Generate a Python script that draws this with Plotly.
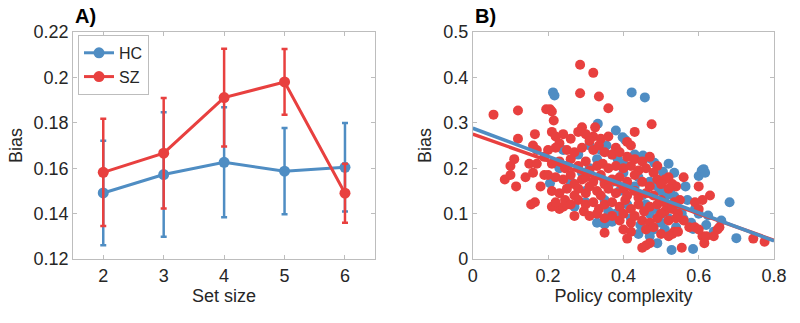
import plotly.graph_objects as go

# ---------------- Panel A data ----------------
set_size = [2, 3, 4, 5, 6]
hc_bias = [0.1491, 0.1572, 0.1626, 0.1587, 0.1604]
hc_err = [0.0230, 0.0274, 0.0242, 0.0190, 0.0195]
sz_bias = [0.1582, 0.1666, 0.1911, 0.1980, 0.1490]
sz_err = [0.0236, 0.0243, 0.0215, 0.0145, 0.0130]

# ---------------- Panel B data ----------------
hc_pts = [
    (0.213, 0.367), (0.217, 0.360), (0.422, 0.367), (0.457, 0.356), (0.332, 0.298),
    (0.380, 0.283), (0.398, 0.268), (0.405, 0.262), (0.355, 0.250), (0.340, 0.240),
    (0.205, 0.167), (0.250, 0.205), (0.270, 0.115), (0.300, 0.125), (0.330, 0.080),
    (0.350, 0.076), (0.370, 0.082), (0.440, 0.055), (0.445, 0.075), (0.490, 0.035),
    (0.528, 0.020), (0.585, 0.022), (0.600, 0.183), (0.608, 0.195), (0.613, 0.198),
    (0.617, 0.190), (0.682, 0.125), (0.700, 0.046), (0.625, 0.096), (0.565, 0.160),
    (0.520, 0.210), (0.505, 0.192), (0.535, 0.190), (0.560, 0.088), (0.580, 0.080),
    (0.585, 0.066), (0.500, 0.150), (0.515, 0.140), (0.525, 0.145), (0.535, 0.138),
    (0.452, 0.228), (0.470, 0.222), (0.482, 0.212), (0.400, 0.210), (0.385, 0.220),
    (0.460, 0.120), (0.470, 0.100), (0.485, 0.110), (0.545, 0.110), (0.555, 0.100),
    (0.430, 0.160), (0.440, 0.180), (0.370, 0.170), (0.390, 0.150), (0.290, 0.190),
    (0.310, 0.200), (0.260, 0.170), (0.230, 0.200), (0.300, 0.150), (0.350, 0.130),
    (0.360, 0.105), (0.410, 0.120), (0.420, 0.090), (0.500, 0.080), (0.510, 0.065),
    (0.520, 0.090), (0.540, 0.070), (0.570, 0.130), (0.590, 0.110), (0.600, 0.100),
    (0.620, 0.075), (0.640, 0.060), (0.660, 0.085), (0.470, 0.170), (0.490, 0.160),
    (0.450, 0.140), (0.330, 0.220), (0.280, 0.230), (0.240, 0.240), (0.310, 0.250),
    (0.350, 0.170), (0.400, 0.190), (0.480, 0.065), (0.470, 0.050), (0.380, 0.100),
    (0.430, 0.230), (0.370, 0.230),
]
sz_pts = [
    # outer points
    (0.055, 0.318), (0.120, 0.327), (0.120, 0.265), (0.085, 0.175), (0.100, 0.185),
    (0.100, 0.205), (0.110, 0.220), (0.115, 0.160), (0.140, 0.180), (0.150, 0.210),
    (0.160, 0.250), (0.170, 0.240), (0.165, 0.275), (0.170, 0.210), (0.160, 0.190),
    (0.155, 0.120), (0.165, 0.125), (0.180, 0.160), (0.190, 0.185), (0.190, 0.225),
    (0.195, 0.330), (0.205, 0.330), (0.210, 0.325), (0.215, 0.305), (0.210, 0.280),
    (0.285, 0.428), (0.320, 0.410), (0.285, 0.365), (0.335, 0.358), (0.360, 0.332),
    (0.290, 0.290), (0.325, 0.290), (0.320, 0.270), (0.475, 0.297), (0.430, 0.280),
    (0.410, 0.258), (0.520, 0.180), (0.560, 0.180), (0.540, 0.160), (0.600, 0.160),
    (0.610, 0.130), (0.630, 0.140), (0.590, 0.125), (0.600, 0.110), (0.560, 0.085),
    (0.575, 0.070), (0.590, 0.070), (0.600, 0.065), (0.610, 0.050), (0.615, 0.035),
    (0.620, 0.050), (0.640, 0.050), (0.650, 0.065), (0.655, 0.070), (0.745, 0.045),
    (0.775, 0.038), (0.555, 0.025), (0.450, 0.025), (0.460, 0.030), (0.470, 0.035),
    (0.410, 0.045), (0.350, 0.058), (0.270, 0.095), (0.295, 0.105), (0.210, 0.115),
    (0.230, 0.110), (0.240, 0.115), (0.250, 0.120), (0.530, 0.055), (0.535, 0.060),
    (0.545, 0.060),
    # dense cluster
    (0.220, 0.270), (0.240, 0.275), (0.260, 0.265), (0.280, 0.280), (0.300, 0.275),
    (0.310, 0.260), (0.340, 0.265), (0.360, 0.270), (0.380, 0.245), (0.420, 0.250),
    (0.230, 0.255), (0.200, 0.240), (0.220, 0.245), (0.250, 0.240), (0.270, 0.235),
    (0.290, 0.245), (0.320, 0.240), (0.335, 0.250), (0.350, 0.235), (0.370, 0.230),
    (0.390, 0.235), (0.410, 0.225), (0.430, 0.220), (0.450, 0.215), (0.470, 0.225),
    (0.490, 0.205), (0.210, 0.210), (0.230, 0.215), (0.245, 0.200), (0.260, 0.220),
    (0.280, 0.205), (0.300, 0.215), (0.310, 0.195), (0.330, 0.205), (0.345, 0.210),
    (0.360, 0.200), (0.380, 0.205), (0.400, 0.200), (0.420, 0.205), (0.440, 0.195),
    (0.460, 0.200), (0.480, 0.190), (0.510, 0.175), (0.530, 0.165), (0.200, 0.185),
    (0.220, 0.180), (0.240, 0.175), (0.260, 0.185), (0.270, 0.165), (0.290, 0.175),
    (0.300, 0.180), (0.320, 0.170), (0.340, 0.185), (0.350, 0.165), (0.370, 0.175),
    (0.390, 0.180), (0.410, 0.170), (0.430, 0.185), (0.450, 0.170), (0.470, 0.160),
    (0.490, 0.175), (0.500, 0.165), (0.520, 0.155), (0.210, 0.150), (0.230, 0.145),
    (0.250, 0.155), (0.270, 0.140), (0.280, 0.155), (0.300, 0.145), (0.310, 0.160),
    (0.330, 0.150), (0.340, 0.140), (0.360, 0.155), (0.380, 0.145), (0.400, 0.155),
    (0.410, 0.140), (0.430, 0.150), (0.440, 0.135), (0.460, 0.145), (0.480, 0.140),
    (0.500, 0.130), (0.515, 0.120), (0.535, 0.125), (0.550, 0.130), (0.220, 0.125),
    (0.245, 0.130), (0.260, 0.120), (0.280, 0.130), (0.300, 0.120), (0.320, 0.125),
    (0.335, 0.110), (0.350, 0.120), (0.370, 0.125), (0.390, 0.115), (0.405, 0.130),
    (0.420, 0.110), (0.440, 0.120), (0.455, 0.105), (0.470, 0.115), (0.490, 0.120),
    (0.510, 0.105), (0.530, 0.110), (0.545, 0.100), (0.310, 0.095), (0.330, 0.100),
    (0.350, 0.090), (0.370, 0.095), (0.390, 0.085), (0.400, 0.100), (0.420, 0.080),
    (0.430, 0.095), (0.450, 0.085), (0.470, 0.080), (0.490, 0.090), (0.500, 0.100),
    (0.520, 0.085), (0.540, 0.090), (0.400, 0.065), (0.420, 0.060), (0.460, 0.065),
    (0.480, 0.070), (0.500, 0.055), (0.520, 0.050),
]
# regression fits (intercept, slope)
hc_fit = [0.288, -0.310]
sz_fit = [0.275, -0.292]
fit_x = [0.0, 0.8]

BLUE = "#4F8DC3"
RED = "#E8403F"
AXC = "#BDBDBD"
TXT = "#262626"
FONT = "Liberation Sans, Arial, sans-serif"

fig = go.Figure()

# Panel A
for name, ys, es, col in [("HC", hc_bias, hc_err, BLUE), ("SZ", sz_bias, sz_err, RED)]:
    fig.add_trace(go.Scatter(
        x=set_size, y=ys, name=name, mode="lines+markers",
        line=dict(color=col, width=3),
        marker=dict(color=col, size=11),
        error_y=dict(type="data", array=es, color=col, thickness=2.5, width=3),
        xaxis="x", yaxis="y",
    ))

# Panel B
fig.add_trace(go.Scatter(
    x=[p[0] for p in hc_pts], y=[p[1] for p in hc_pts], mode="markers",
    marker=dict(color=BLUE, size=10), showlegend=False, xaxis="x2", yaxis="y2"))
fig.add_trace(go.Scatter(
    x=[p[0] for p in sz_pts], y=[p[1] for p in sz_pts], mode="markers",
    marker=dict(color=RED, size=10), showlegend=False, xaxis="x2", yaxis="y2"))
for fit, col in [(sz_fit, RED), (hc_fit, BLUE)]:
    fig.add_trace(go.Scatter(
        x=fit_x, y=[fit[0] + fit[1] * v for v in fit_x], mode="lines",
        line=dict(color=col, width=3.5), showlegend=False, xaxis="x2", yaxis="y2"))

axis_common = dict(showline=True, linecolor=AXC, linewidth=1, mirror="ticks",
                   ticks="inside", ticklen=4, tickcolor=AXC, showgrid=False,
                   zeroline=False, automargin=False,
                   tickfont=dict(size=18, color=TXT, family=FONT))
TITLE_FONT = dict(size=18, color=TXT, family=FONT)

fig.update_layout(
    width=800, height=323, margin=dict(l=0, r=0, t=0, b=0, autoexpand=False),
    plot_bgcolor="white", paper_bgcolor="white",
    font=dict(family=FONT, color=TXT),
    xaxis=dict(domain=[0.0913, 0.469], range=[1.5, 6.5], tickvals=set_size,
               title=dict(text="Set size", font=TITLE_FONT, standoff=4),
               anchor="y", **axis_common),
    yaxis=dict(domain=[0.198, 0.901], range=[0.12, 0.22],
               tickvals=[0.12, 0.14, 0.16, 0.18, 0.2, 0.22],
               ticktext=["0.12", "0.14", "0.16", "0.18", "0.2", "0.22"],
               title=dict(text="Bias", font=TITLE_FONT, standoff=6),
               anchor="x", **axis_common),
    xaxis2=dict(domain=[0.591, 0.9675], range=[0, 0.8],
                tickvals=[0, 0.2, 0.4, 0.6, 0.8], ticktext=["0", "0.2", "0.4", "0.6", "0.8"],
                title=dict(text="Policy complexity", font=TITLE_FONT, standoff=4),
                anchor="y2", **axis_common),
    yaxis2=dict(domain=[0.198, 0.901], range=[0, 0.5],
                tickvals=[0, 0.1, 0.2, 0.3, 0.4, 0.5],
                ticktext=["0", "0.1", "0.2", "0.3", "0.4", "0.5"],
                title=dict(text="Bias", font=TITLE_FONT, standoff=6),
                anchor="x2", **axis_common),
    legend=dict(x=0.0975, y=0.892, xanchor="left", yanchor="top",
                bgcolor="white", bordercolor=AXC, borderwidth=1,
                font=dict(size=16, color=TXT, family=FONT),
                itemwidth=30, tracegroupgap=0),
    annotations=[
        dict(text="<b>A)</b>", x=0.0913, y=0.91, xref="paper", yref="paper",
             xanchor="left", yanchor="bottom", showarrow=False,
             font=dict(size=20, color="black", family=FONT)),
        dict(text="<b>B)</b>", x=0.591, y=0.91, xref="paper", yref="paper",
             xanchor="left", yanchor="bottom", showarrow=False,
             font=dict(size=20, color="black", family=FONT)),
    ],
)

fig.write_html("out.html", config={"displayModeBar": False},
               post_script="document.body.style.margin='0';")
